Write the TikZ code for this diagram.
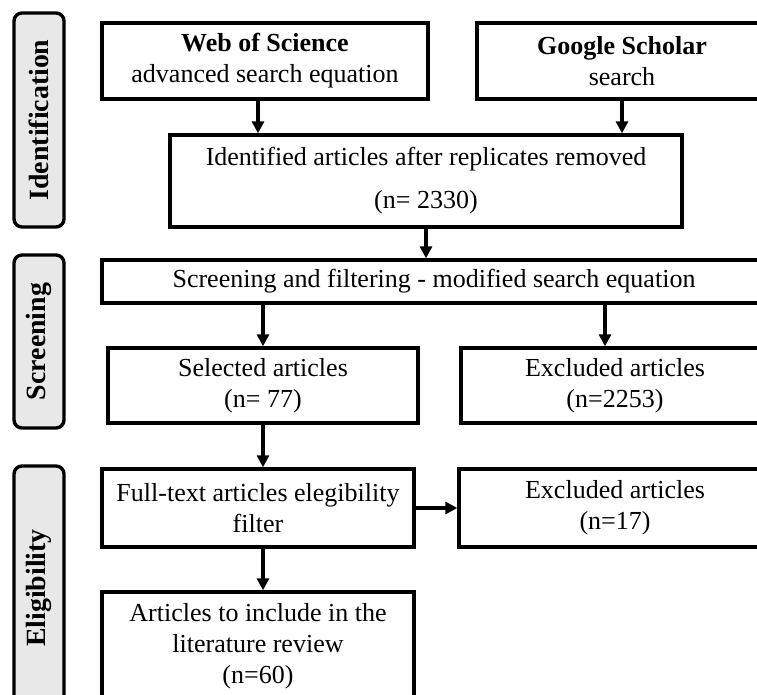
\documentclass[tikz,border=0pt]{standalone}
\usepackage{fontspec}
\setmainfont{Liberation Serif}
\usepackage{tikz}
\usetikzlibrary{arrows.meta}

\begin{document}
\begin{tikzpicture}[>={Triangle[width=8.5pt,length=8.5pt]},
	box/.style={draw, line width=2.4pt, align=center, inner sep=0pt,
		font=\fontsize{18.5}{22}\selectfont},
	phase/.style={draw, line width=2.4pt, rounded corners=0.2cm, fill=gray!18,
		rotate=90, minimum height=1.25cm, inner sep=0pt,
		font=\fontsize{19.8}{22}\selectfont\bfseries},
	link/.style={->, line width=2.2pt}]
	\clip (0,0) rectangle (18.925,17.375);
	
	%phases
	\node[phase, minimum width=5.35cm]  (idbar)   at (0.975,14.375) {Identification};
	\node[phase, minimum width=4.325cm] (scrbar)  at (0.975,8.8375) {Screening};
	\node[phase, minimum width=6.1cm]   (eligbar) at (0.975,2.675)  {Eligibility};
	
	%boxes
	\node[box, minimum width=8.15cm, minimum height=1.9cm]  (wos)    at (6.625,15.85) {\textbf{Web of Science}\\advanced search equation};
	\node[box, minimum width=7.25cm, minimum height=1.9cm]  (gs)     at (15.55,15.85) {\textbf{Google Scholar}\\search};
	\node[box, minimum width=12.8cm, minimum height=2.3cm]  (ident)  at (10.65,12.85) {Identified articles after replicates removed\\[0.3cm](n= 2330)};
	\node[box, minimum width=16.6cm, minimum height=1.075cm] (screen) at (10.85,10.3375) {Screening and filtering - modified search equation};
	\node[box, minimum width=7.75cm, minimum height=1.875cm] (sel)   at (6.575,7.7375) {Selected articles\\(n= 77)};
	\node[box, minimum width=7.7cm, minimum height=1.875cm]  (excl)  at (15.375,7.7375) {Excluded articles\\(n=2253)};
	\node[box, minimum width=7.8cm, minimum height=1.95cm]   (full)  at (6.45,4.675) {Full-text articles elegibility\\filter};
	\node[box, minimum width=7.8cm, minimum height=1.95cm]   (excl2) at (15.375,4.675) {Excluded articles\\(n=17)};
	\node[box, minimum width=7.8cm, minimum height=2.7cm]    (art)   at (6.45,1.225) {Articles to include in the\\literature review\\(n=60)};
	
	%arrows
	\draw[link] ([xshift=-0.175cm]wos.south) -- ([xshift=-0.175cm]wos.south |- ident.north);
	\draw[link] (gs.south) -- (gs.south |- ident.north);
	\draw[link] (ident.south) -- (ident.south |- screen.north);
	\draw[link] (sel.north |- screen.south) -- (sel.north);
	\draw[link] ([xshift=-0.25cm]excl.north |- screen.south) -- ([xshift=-0.25cm]excl.north);
	\draw[link] (sel.south) -- (sel.south |- full.north);
	\draw[link] (full.east) -- (excl2.west);
	\draw[link] (sel.south |- full.south) -- (sel.south |- art.north);
	
\end{tikzpicture}
\end{document}
